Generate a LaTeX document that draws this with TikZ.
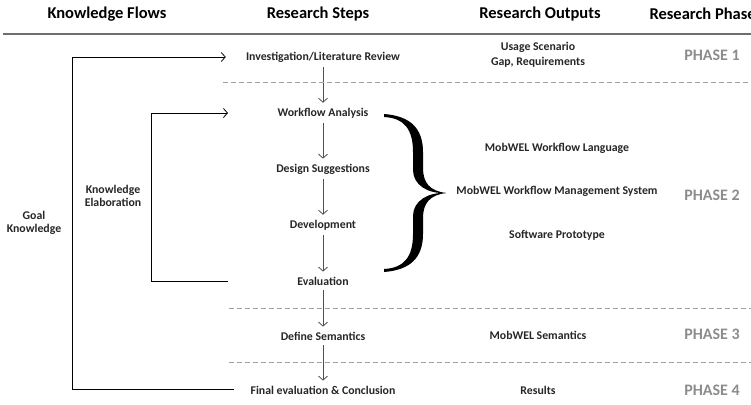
\documentclass[tikz,border=0pt]{standalone}
\usepackage{fontspec}
\setmainfont{Carlito}
\usepackage{tikz}
\usetikzlibrary{arrows.meta,positioning}
\definecolor{phasegray}{HTML}{8C8C8C}
\definecolor{arrowgray}{HTML}{505050}
\definecolor{rulegray}{HTML}{6E6E6E}

\begin{document}
\begin{tikzpicture}[x=1pt,y=-1pt,
  font=\bfseries\fontsize{11.8}{13}\selectfont,text=black!85,
  head/.style={font=\bfseries\fontsize{16.5}{19}\selectfont,text=black},
  stepbox/.style={inner xsep=2pt,inner ysep=5pt},
  outbox/.style={align=center,inner sep=2pt},
  phase/.style={font=\bfseries\fontsize{16}{18}\selectfont,text=phasegray},
  arr/.style={-{Straight Barb[length=4pt,width=9pt]},draw=arrowgray,line width=0.8pt},
  flow/.style={draw=black,line width=0.8pt},
  sep/.style={draw=gray!75,dash pattern=on 5pt off 3pt,line width=0.8pt}
]
\useasboundingbox (0,0) rectangle (751,404);

% column heads
\node[head] (hflow)  at (107,14) {Knowledge Flows};
\node[head] (hsteps) at (318,14) {Research Steps};
\node[head] (hout)   at (540,14) {Research Outputs};
\node[head,anchor=west] (hphase) at (646,14) {Research Phase};
\coordinate (rl) at (3,34);
\coordinate (rr) at (751,34);
\draw[rulegray,line width=1.5pt] (rl) -- (rr);

% research steps
\node[stepbox] (inv) at (323,57) {Investigation/Literature Review};
\node[stepbox,on grid,below=56pt of inv] (wfa) {Workflow Analysis};
\node[stepbox,on grid,below=56pt of wfa] (des) {Design Suggestions};
\node[stepbox,on grid,below=56pt of des] (dev) {Development};
\node[stepbox,on grid,below=56pt of dev] (eva) {Evaluation};
\node[stepbox,on grid,below=55pt of eva] (sem) {Define Semantics};
\node[stepbox,on grid,below=54pt of sem] (fin) {Final evaluation \& Conclusion};
\draw[arr] (inv) -- (wfa);
\draw[arr] (wfa) -- (des);
\draw[arr] (des) -- (dev);
\draw[arr] (dev) -- (eva);
\draw[arr] (eva) -- (sem);
\draw[arr] (sem) -- (fin);

% phase borders
\coordinate (s1l) at (223,82);  \coordinate (s1r) at (751,82);
\coordinate (s2l) at (229,308); \coordinate (s2r) at (751,308);
\coordinate (s3l) at (229,362); \coordinate (s3r) at (751,362);
\draw[sep] (s1l) -- (s1r);
\draw[sep] (s2l) -- (s2r);
\draw[sep] (s3l) -- (s3r);

% outputs
\node[outbox] (usage) at (538,55) {Usage Scenario\\[1.5pt]Gap, Requirements};
\node[outbox] (lang)  at (557,148) {MobWEL Workflow Language};
\node[outbox] (wms)   at (557,191) {MobWEL Workflow Management System};
\node[outbox] (proto) at (557,235) {Software Prototype};
\node[outbox] (msem)  at (538,335) {MobWEL Semantics};
\node[outbox] (res)   at (538,390) {Results};

% brace
\fill[black] (384,114) .. controls (410,116) and (423,128) .. (423,152)
  -- (423,168) .. controls (423,183) and (430,191) .. (446,193)
  .. controls (428,194) and (413,185) .. (413,170)
  -- (413,152) .. controls (413,129) and (404,118) .. (384,117) -- cycle;
\fill[black] (384,272) .. controls (410,270) and (423,258) .. (423,234)
  -- (423,218) .. controls (423,203) and (430,195) .. (446,193)
  .. controls (428,192) and (413,201) .. (413,216)
  -- (413,234) .. controls (413,257) and (404,268) .. (384,269) -- cycle;

% phases
\node[phase] (p1) at (712,55)  {PHASE 1};
\node[phase] (p2) at (712,195) {PHASE 2};
\node[phase] (p3) at (712,334) {PHASE 3};
\node[phase] (p4) at (712,390) {PHASE 4};

% knowledge flows
\node[outbox] (goal) at (34,223)  {Goal\\Knowledge};
\node[outbox] (elab) at (113,196) {Knowledge\\Elaboration};
\coordinate (gend) at (234,389);
\coordinate (etop) at (228,113);
\coordinate (eend) at (228,281);
\draw[flow,-{Straight Barb[length=4pt,width=9pt]}] (gend) -- ++(-162,0) |- ([xshift=-18pt]inv.west);
\draw[flow,-{Straight Barb[length=4pt,width=9pt]}] (eend) -- ++(-77,0) |- (etop);
\end{tikzpicture}
\end{document}
